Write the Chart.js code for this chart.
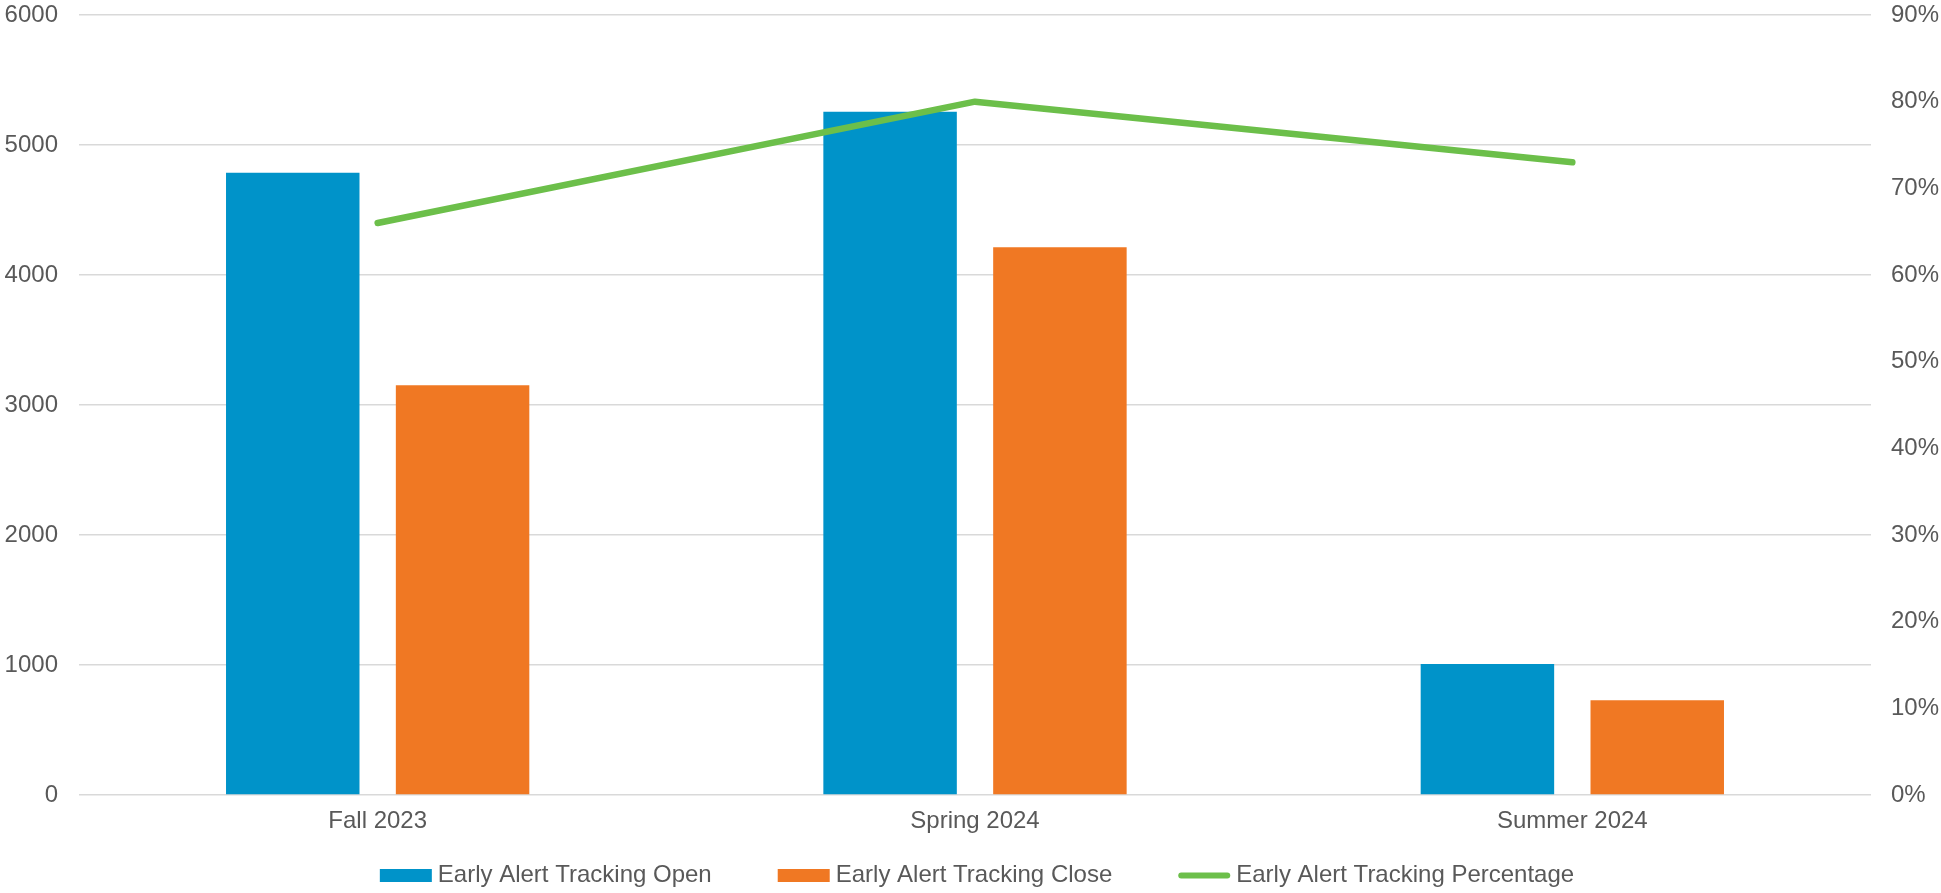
<!DOCTYPE html>
<html>
<head>
<meta charset="utf-8">
<script src="https://cdn.jsdelivr.net/npm/chart.js@4.4.1/dist/chart.umd.min.js"></script>
<style>
  html, body { margin: 0; padding: 0; background: #ffffff; }
  #wrap { width: 1941px; height: 893px; position: relative; }
</style>
</head>
<body>
<div id="wrap"><canvas id="c"></canvas></div>
<script>
const categories = ["Fall 2023", "Spring 2024", "Summer 2024"];
const openValues = [4787, 5256, 1007];
const closeValues = [3151, 4213, 728];
const percentValues = [66, 80, 73];
const seriesNames = ["Early Alert Tracking Open", "Early Alert Tracking Close", "Early Alert Tracking Percentage"];
const leftTicks = { min: 0, max: 6000, step: 1000 };
const rightTicks = { min: 0, max: 90, step: 10 };

const BLUE = "#0093C9";
const ORANGE = "#F07823";
const GREEN = "#6CBF4A";
const TEXT = "#595959";
const GRID = "#D9D9D9";
const FONT = "'Liberation Sans', Arial, sans-serif";

const legendPlugin = {
  id: "excelLegend",
  afterDraw(chart) {
    const ctx = chart.ctx;
    const ds = chart.data.datasets;
    ctx.save();
    ctx.font = "24px " + FONT;
    ctx.textBaseline = "middle";
    ctx.textAlign = "left";
    const boxW = 52, gapText = 6, gapItem = 66;
    const widths = ds.map(d => boxW + gapText + ctx.measureText(d.label).width);
    const total = widths.reduce((a, b) => a + b, 0) + gapItem * (ds.length - 1);
    const cx = (chart.chartArea.left + chart.chartArea.right) / 2 + 2;
    let x = cx - total / 2;
    const y = 875.5;
    ds.forEach((d, i) => {
      if (d.type === "line") {
        ctx.strokeStyle = d.borderColor;
        ctx.lineWidth = 6;
        ctx.lineCap = "round";
        ctx.beginPath();
        ctx.moveTo(x + 3, y);
        ctx.lineTo(x + boxW - 3, y);
        ctx.stroke();
      } else {
        ctx.fillStyle = d.backgroundColor;
        ctx.fillRect(x, y - 6.5, boxW, 13);
      }
      ctx.fillStyle = TEXT;
      ctx.fillText(d.label, x + boxW + gapText, y);
      x += widths[i] + gapItem;
    });
    ctx.restore();
  }
};

function fixY(width) {
  return function (scale) {
    scale.width = width;
    scale.paddingTop = 0;
    scale.paddingBottom = 0;
  };
}

new Chart(document.getElementById("c"), {
  type: "bar",
  data: {
    labels: categories,
    datasets: [
      {
        type: "bar",
        label: seriesNames[0],
        data: openValues,
        backgroundColor: BLUE,
        yAxisID: "y",
        order: 2,
        categoryPercentage: 0.5686,
        barPercentage: 0.786
      },
      {
        type: "bar",
        label: seriesNames[1],
        data: closeValues,
        backgroundColor: ORANGE,
        yAxisID: "y",
        order: 2,
        categoryPercentage: 0.5686,
        barPercentage: 0.786
      },
      {
        type: "line",
        label: seriesNames[2],
        data: percentValues,
        borderColor: GREEN,
        backgroundColor: GREEN,
        borderWidth: 6.5,
        borderCapStyle: "round",
        borderJoinStyle: "round",
        pointRadius: 0,
        pointHoverRadius: 0,
        tension: 0,
        fill: false,
        yAxisID: "y1",
        order: 1
      }
    ]
  },
  options: {
    responsive: true,
    maintainAspectRatio: false,
    animation: false,
    events: [],
    layout: { padding: { top: 15, left: 0, right: 0, bottom: 57 } },
    plugins: {
      legend: { display: false },
      tooltip: { enabled: false },
      title: { display: false }
    },
    scales: {
      x: {
        grid: { display: false, drawTicks: false },
        border: { display: false },
        ticks: { color: TEXT, font: { family: FONT, size: 24 }, padding: 12, maxRotation: 0 },
        afterFit(scale) { scale.height = 41; scale.paddingLeft = 0; scale.paddingRight = 0; }
      },
      y: {
        position: "left",
        min: leftTicks.min,
        max: leftTicks.max,
        grid: { color: GRID, lineWidth: 1.5, drawTicks: false },
        border: { display: false },
        ticks: {
          stepSize: leftTicks.step,
          color: TEXT,
          font: { family: FONT, size: 24 },
          padding: 21,
          callback: v => String(v)
        },
        afterFit: fixY(79)
      },
      y1: {
        position: "right",
        min: rightTicks.min,
        max: rightTicks.max,
        grid: { display: false, drawTicks: false },
        border: { display: false },
        ticks: {
          stepSize: rightTicks.step,
          color: TEXT,
          font: { family: FONT, size: 24 },
          padding: 20,
          callback: v => v + "%"
        },
        afterFit: fixY(70)
      }
    }
  },
  plugins: [legendPlugin]
});
</script>
</body>
</html>
